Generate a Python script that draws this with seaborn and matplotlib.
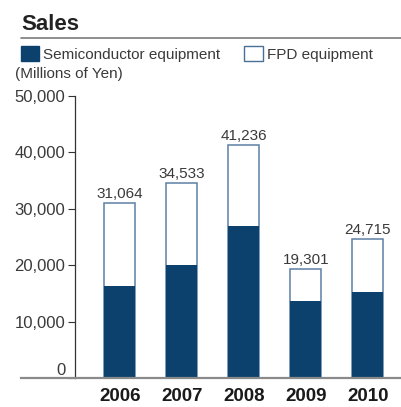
import matplotlib
matplotlib.use("Agg")
import matplotlib.pyplot as plt
import matplotlib.patches as mpatches
import matplotlib.lines as mlines
import seaborn as sns
import pandas as pd

# data (Millions of Yen)
years = ["2006", "2007", "2008", "2009", "2010"]
total_sales = [31064, 34533, 41236, 19301, 24715]
semiconductor = [16370, 19980, 26950, 13650, 15190]
y_ticks = [0, 10000, 20000, 30000, 40000, 50000]

navy = "#0b416c"
edge_blue = "#5b80a6"
text_grey = "#3a3a3a"

sns.set_theme(style="white")
plt.rcParams["font.family"] = ["Liberation Sans", "DejaVu Sans"]

df = pd.DataFrame({"Year": years, "Total": total_sales, "Semi": semiconductor})

fig = plt.figure(figsize=(4.01, 4.07), dpi=100)
ax = fig.add_axes([21 / 401, 29 / 407, 380 / 401, 282 / 407])

# full bar = total sales (FPD part shows as white), semiconductor drawn on top
sns.barplot(data=df, x="Year", y="Total", order=years, color="white",
            edgecolor=edge_blue, linewidth=1.1, width=0.5, saturation=1,
            errorbar=None, ax=ax)
sns.barplot(data=df, x="Year", y="Semi", order=years, color=navy,
            edgecolor=navy, linewidth=0, width=0.5, saturation=1,
            errorbar=None, ax=ax)

ax.bar_label(ax.containers[0], fmt="{:,.0f}", padding=1.5, fontsize=11,
             color=text_grey)

ax.set_xlim(-1.594, 4.535)
ax.set_ylim(0, 50000)
ax.set_yticks(y_ticks)
ax.set_yticklabels([f"{v:,}" for v in y_ticks])
ax.set_xlabel("")
ax.set_ylabel("")

for s in ["top", "right"]:
    ax.spines[s].set_visible(False)
ax.spines["left"].set_position(("data", -0.72))
ax.spines["left"].set_color("#333333")
ax.spines["left"].set_linewidth(0.9)
ax.spines["bottom"].set_color("#8a8a8a")
ax.spines["bottom"].set_linewidth(1.6)

ax.tick_params(axis="y", length=5, width=0.8, color="#333333", pad=2,
               labelsize=12, labelcolor=text_grey, left=True)
ax.tick_params(axis="x", length=0, pad=7, labelsize=13.5, labelcolor="#1a1a1a")
for lbl in ax.get_xticklabels():
    lbl.set_fontweight("bold")
ax.get_yticklabels()[0].set_verticalalignment("bottom")

# header
fig.text(21 / 401, 1 - 30 / 407, "Sales", fontsize=16, fontweight="bold",
         color="#222222", va="baseline", ha="left")
fig.add_artist(mlines.Line2D([21 / 401, 1.0], [1 - 37.7 / 407] * 2,
                             color="#7a7a7a", lw=1.2))

handles = [mpatches.Patch(facecolor=navy, edgecolor=navy, label="Semiconductor equipment"),
           mpatches.Patch(facecolor="white", edgecolor="#4a6f95", lw=1,
                          label="FPD equipment")]
fig.legend(handles=handles, loc="upper left",
           bbox_to_anchor=(20.7 / 401, 1 - 46 / 407),
           bbox_transform=fig.transFigure, ncol=2, frameon=False,
           fontsize=11, handlelength=1.2, handleheight=1.15,
           handletextpad=0.25, columnspacing=1.6, borderpad=0,
           borderaxespad=0, labelcolor=text_grey)

fig.text(15 / 401, 1 - 74 / 407, "(Millions of Yen)", fontsize=11,
         color=text_grey, va="center", ha="left")

fig.savefig("out.png", dpi=100)
